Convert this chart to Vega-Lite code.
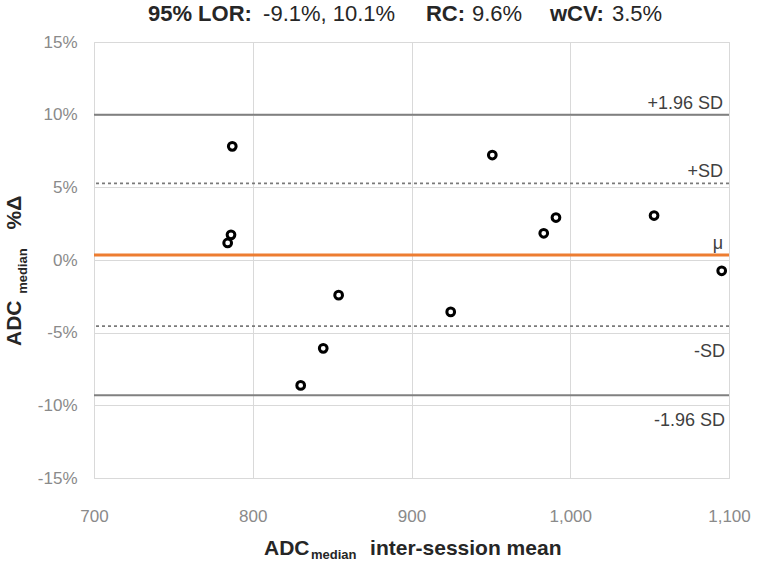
{
  "$schema": "https://vega.github.io/schema/vega-lite/v6.json",
  "autosize": {"type": "none"},
  "width": 635,
  "height": 436,
  "padding": {"left": 94, "top": 42, "right": 28, "bottom": 83},
  "background": "white",
  "config": {
    "view": {"stroke": "#d9d9d9", "strokeWidth": 1},
    "font": "Liberation Sans",
    "axis": {"grid": true, "gridColor": "#d9d9d9", "gridWidth": 1, "domain": false, "ticks": false, "labelFontSize": 17, "labelColor": "#8a8a8a", "labelFont": "Liberation Sans", "title": null, "labelFlush": false, "labelBound": false, "labelOverlap": false}
  },
  "datasets": {
    "points": [
      {"mean": 787.1, "diff": 7.82},
      {"mean": 786.3, "diff": 1.73},
      {"mean": 784.2, "diff": 1.17},
      {"mean": 854.1, "diff": -2.42},
      {"mean": 844.4, "diff": -6.08},
      {"mean": 830.2, "diff": -8.63},
      {"mean": 924.7, "diff": -3.57},
      {"mean": 950.9, "diff": 7.22},
      {"mean": 983.3, "diff": 1.84},
      {"mean": 991.0, "diff": 2.92},
      {"mean": 1052.8, "diff": 3.06},
      {"mean": 1095.4, "diff": -0.74}
    ],
    "lines": [
      {"name": "+1.96 SD", "value": 10.0, "kind": "loa", "side": "above"},
      {"name": "+SD", "value": 5.27, "kind": "sd", "side": "above"},
      {"name": "μ", "value": 0.35, "kind": "mean", "side": "above"},
      {"name": "-SD", "value": -4.55, "kind": "sd", "side": "below"},
      {"name": "-1.96 SD", "value": -9.3, "kind": "loa", "side": "below"}
    ],
    "texts": [
      {"t": "95% LOR:", "x": 734.0, "y": 16.94, "role": "titlebold"},
      {"t": "-9.1%, 10.1%", "x": 806.5, "y": 16.94, "role": "title"},
      {"t": "RC:", "x": 909.1, "y": 16.94, "role": "titlebold"},
      {"t": "9.6%", "x": 938.1, "y": 16.94, "role": "title"},
      {"t": "wCV:", "x": 987.2, "y": 16.94, "role": "titlebold"},
      {"t": "3.5%", "x": 1026.3, "y": 16.94, "role": "title"},
      {"t": "ADC", "x": 807.1, "y": -19.9, "role": "xmain"},
      {"t": "median", "x": 836.7, "y": -19.9, "role": "xsub"},
      {"t": "inter-session mean", "x": 873.9, "y": -19.9, "role": "xmain"}
    ],
    "ytexts": [
      {"t": "ADC", "x": 650.2, "y": -5.92, "role": "ymain"},
      {"t": "median", "x": 655.3, "y": -2.33, "role": "ysub"},
      {"t": "%Δ", "x": 650.2, "y": 2.1, "role": "ymain"}
    ]
  },
  "layer": [
    {
      "data": {"name": "points"},
      "mark": {"type": "point", "shape": "circle", "filled": false, "stroke": "black", "strokeWidth": 3, "size": 60, "opacity": 1, "zindex": 2},
      "encoding": {
        "x": {"field": "mean", "type": "quantitative", "scale": {"domain": [700, 1100], "nice": false, "zero": false},
          "axis": {"values": [700, 800, 900, 1000, 1100], "format": ",d", "labelPadding": 30}},
        "y": {"field": "diff", "type": "quantitative", "scale": {"domain": [-15, 15], "nice": false, "zero": false},
          "axis": {"values": [-15, -10, -5, 0, 5, 10, 15], "labelExpr": "datum.value + '%'", "labelPadding": 17}}
      }
    },
    {
      "data": {"name": "lines"},
      "transform": [{"filter": "datum.kind === 'loa'"}],
      "mark": {"type": "rule", "color": "#808080", "strokeWidth": 2},
      "encoding": {
        "y": {"field": "value", "type": "quantitative", "scale": {"domain": [-15, 15], "nice": false, "zero": false}}
      }
    },
    {
      "data": {"name": "lines"},
      "transform": [{"filter": "datum.kind === 'sd'"}],
      "mark": {"type": "rule", "color": "#7a7a7a", "strokeWidth": 1.8, "strokeDash": [3, 3]},
      "encoding": {
        "y": {"field": "value", "type": "quantitative", "scale": {"domain": [-15, 15], "nice": false, "zero": false}}
      }
    },
    {
      "data": {"name": "lines"},
      "transform": [{"filter": "datum.kind === 'mean'"}],
      "mark": {"type": "rule", "color": "#ED7D31", "strokeWidth": 3},
      "encoding": {
        "y": {"field": "value", "type": "quantitative", "scale": {"domain": [-15, 15], "nice": false, "zero": false}}
      }
    },
    {
      "data": {"name": "lines"},
      "transform": [{"filter": "datum.side === 'above'"}],
      "mark": {"type": "text", "align": "right", "baseline": "alphabetic", "dx": -6, "dy": -6, "fontSize": 18, "color": "#404040"},
      "encoding": {
        "x": {"datum": 1100, "type": "quantitative", "scale": {"domain": [700, 1100], "nice": false, "zero": false}},
        "y": {"field": "value", "type": "quantitative", "scale": {"domain": [-15, 15], "nice": false, "zero": false}},
        "text": {"field": "name"}
      }
    },
    {
      "data": {"name": "lines"},
      "transform": [{"filter": "datum.side === 'below'"}],
      "mark": {"type": "text", "align": "right", "baseline": "alphabetic", "dx": -4, "dy": 31, "fontSize": 18, "color": "#404040"},
      "encoding": {
        "x": {"datum": 1100, "type": "quantitative", "scale": {"domain": [700, 1100], "nice": false, "zero": false}},
        "y": {"field": "value", "type": "quantitative", "scale": {"domain": [-15, 15], "nice": false, "zero": false}},
        "text": {"field": "name"}
      }
    },
    {
      "data": {"name": "texts"},
      "transform": [{"filter": "datum.role === 'titlebold'"}],
      "mark": {"type": "text", "align": "left", "baseline": "middle", "fontSize": 22, "fontWeight": "bold", "color": "#262626"},
      "encoding": {
        "x": {"field": "x", "type": "quantitative", "scale": {"domain": [700, 1100], "nice": false, "zero": false}},
        "y": {"field": "y", "type": "quantitative", "scale": {"domain": [-15, 15], "nice": false, "zero": false}},
        "text": {"field": "t"}
      }
    },
    {
      "data": {"name": "texts"},
      "transform": [{"filter": "datum.role === 'title'"}],
      "mark": {"type": "text", "align": "left", "baseline": "middle", "fontSize": 22, "color": "#262626"},
      "encoding": {
        "x": {"field": "x", "type": "quantitative", "scale": {"domain": [700, 1100], "nice": false, "zero": false}},
        "y": {"field": "y", "type": "quantitative", "scale": {"domain": [-15, 15], "nice": false, "zero": false}},
        "text": {"field": "t"}
      }
    },
    {
      "data": {"name": "texts"},
      "transform": [{"filter": "datum.role === 'xmain'"}],
      "mark": {"type": "text", "align": "left", "baseline": "middle", "fontSize": 21, "fontWeight": "bold", "color": "#262626"},
      "encoding": {
        "x": {"field": "x", "type": "quantitative", "scale": {"domain": [700, 1100], "nice": false, "zero": false}},
        "y": {"field": "y", "type": "quantitative", "scale": {"domain": [-15, 15], "nice": false, "zero": false}},
        "text": {"field": "t"}
      }
    },
    {
      "data": {"name": "texts"},
      "transform": [{"filter": "datum.role === 'xsub'"}],
      "mark": {"type": "text", "align": "left", "baseline": "middle", "dy": 6, "fontSize": 13, "fontWeight": "bold", "color": "#262626"},
      "encoding": {
        "x": {"field": "x", "type": "quantitative", "scale": {"domain": [700, 1100], "nice": false, "zero": false}},
        "y": {"field": "y", "type": "quantitative", "scale": {"domain": [-15, 15], "nice": false, "zero": false}},
        "text": {"field": "t"}
      }
    },
    {
      "data": {"name": "ytexts"},
      "transform": [{"filter": "datum.role === 'ymain'"}],
      "mark": {"type": "text", "align": "left", "baseline": "middle", "angle": 270, "fontSize": 21, "fontWeight": "bold", "color": "#262626"},
      "encoding": {
        "x": {"field": "x", "type": "quantitative", "scale": {"domain": [700, 1100], "nice": false, "zero": false}},
        "y": {"field": "y", "type": "quantitative", "scale": {"domain": [-15, 15], "nice": false, "zero": false}},
        "text": {"field": "t"}
      }
    },
    {
      "data": {"name": "ytexts"},
      "transform": [{"filter": "datum.role === 'ysub'"}],
      "mark": {"type": "text", "align": "left", "baseline": "middle", "angle": 270, "fontSize": 13, "fontWeight": "bold", "color": "#262626"},
      "encoding": {
        "x": {"field": "x", "type": "quantitative", "scale": {"domain": [700, 1100], "nice": false, "zero": false}},
        "y": {"field": "y", "type": "quantitative", "scale": {"domain": [-15, 15], "nice": false, "zero": false}},
        "text": {"field": "t"}
      }
    }
  ]
}
